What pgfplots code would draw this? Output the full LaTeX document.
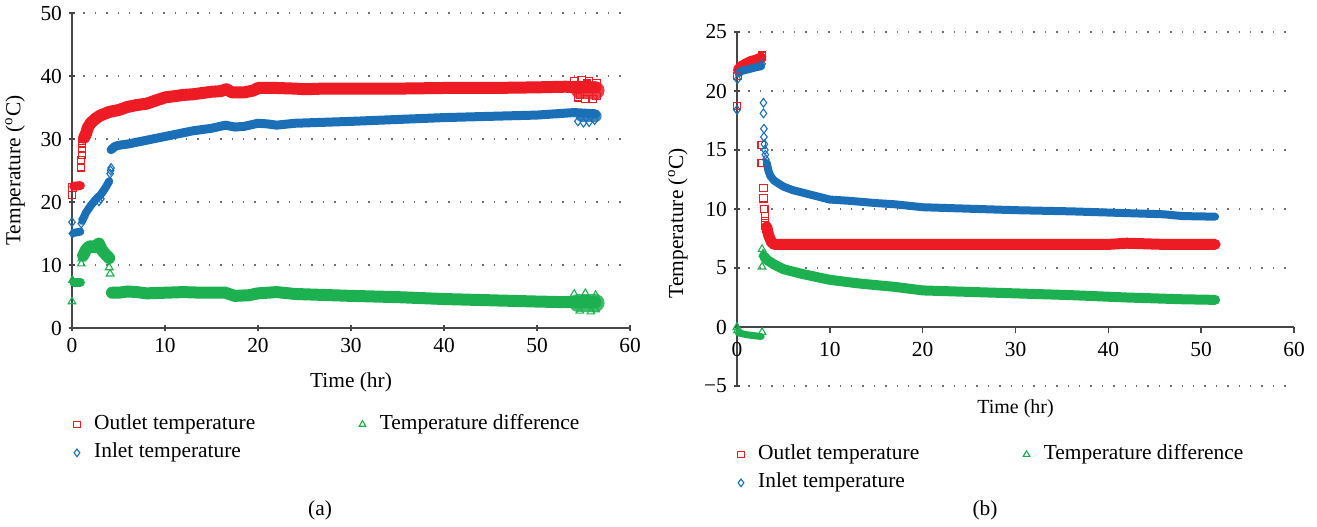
\documentclass[border=0pt]{standalone}
\usepackage{fontspec}
\setmainfont{Liberation Serif}
\usepackage{pgfplots}
\pgfplotsset{compat=1.18}
\definecolor{cred}{RGB}{237,28,36}
\definecolor{cblue}{RGB}{26,111,183}
\definecolor{cgreen}{RGB}{29,176,80}
\definecolor{axgray}{RGB}{70,70,70}
\definecolor{gridgray}{RGB}{110,110,110}
\newcommand{\fs}{\fontsize{10.7}{12.5}\selectfont}
\pgfplotsset{
  band/.style={no markers, line join=round, line cap=round, forget plot},
  rsq/.style={only marks, mark=square, mark size=1.8pt, mark options={draw=cred, line width=0.55pt, fill=none}, forget plot},
  bdi/.style={only marks, mark=diamond, mark size=2.2pt, mark options={draw=cblue, line width=0.55pt, fill=none}, forget plot},
  gtr/.style={only marks, mark=triangle, mark size=2.2pt, mark options={draw=cgreen, line width=0.55pt, fill=none}, forget plot},
  common/.style={
    scale only axis, enlargelimits=false, clip=false,
    axis line style={-, draw=axgray, line width=0.8pt},
    every tick/.style={draw=axgray, line width=0.8pt},
    tick align=outside, major tick length=3pt,
    ymajorgrids, grid style={draw=gridgray, line width=0.7pt, dash pattern=on 0.7pt off 5pt},
    ticklabel style={font=\fs},
    /pgf/number format/assume math mode=true,
    label style={font=\fs},
    legend columns=2,
    legend image code/.code={\draw[#1] plot coordinates {(0pt,0pt)};},
    legend style={draw=none, fill=none, inner sep=0pt, font=\fs, legend cell align=left,
      nodes={inner sep=0pt, text height=7.5pt, text depth=2.5pt},
      row sep=4.2pt,
      /tikz/every odd column/.append style={column sep=7.0pt},
      /tikz/every even column/.append style={column sep=52pt}},
  },
  rleg/.style={only marks, mark=square, mark size=1.6pt, cred, mark options={draw=cred, fill=none, line width=0.55pt}},
  gleg/.style={only marks, mark=triangle, mark size=1.9pt, cgreen, mark options={draw=cgreen, fill=none, line width=0.55pt}},
  bleg/.style={only marks, mark=diamond, mark size=1.9pt, cblue, mark options={draw=cblue, fill=none, line width=0.55pt}},
}
\begin{document}
\begin{tikzpicture}
\useasboundingbox (0,0) rectangle (658.5pt,263pt);
% ---------------- panel (a)
\begin{axis}[common, at={(36pt,99pt)}, anchor=south west, width=279pt, height=157.5pt,
  xmin=0, xmax=60, ymin=0, ymax=50,
  axis x line=bottom, axis y line=left,
  x axis line style={-}, y axis line style={-},
  xtick={0,10,...,60}, ytick={0,10,...,50},
  xlabel={Time (hr)}, ylabel={Temperature (\textsuperscript{o}C)},
  xlabel style={at={(axis description cs:0.5,-0.171)}, anchor=center},
  ylabel style={at={(axis description cs:-0.102,0.5)}, anchor=center},
  legend style={at={(axis description cs:0.0025,-0.273)}, anchor=north west},
]
% outlet
\addplot[band, cred, line width=4.5pt] coordinates {(0.2,22.5)(0.9,22.6)};
\addplot[band, cred, line width=6pt] coordinates {(1.3,30.2)(1.5,30.8)(1.7,31.8)(2,32.5)(2.5,33.2)(3,33.7)(3.5,34.0)(4,34.3)(5,34.6)(6,35.1)(7,35.4)(8,35.6)(9,36.1)(10,36.6)(11,36.8)(12,37.0)(13,37.1)(14,37.3)(15,37.5)(16,37.6)(16.6,37.9)(17.2,37.4)(18.5,37.4)(19.5,37.7)(20,38.1)(22,38.1)(24,38.0)(25,37.9)(27,38.0)(30,38.0)(35,38.0)(40,38.1)(45,38.1)(50,38.2)(53,38.3)(56.3,38.2)};
\addplot[band, cred, line width=9pt, opacity=0.85] coordinates {(54.6,37.8)(56.3,37.7)};
\addplot[rsq] coordinates {(0,21.1)(0.05,22.3)(1.0,25.5)(1.0,26.6)(1.05,27.5)(1.05,28.5)(1.1,29.3)(1.15,30.0)
 (54.0,39.2)(54.4,36.6)(54.8,39.3)(55.2,36.3)(55.6,39.2)(56.0,36.4)(56.4,38.9)(56.4,36.8)(55.4,38.8)(54.6,37.0)};
% inlet
\addplot[band, cblue, line width=4pt] coordinates {(0.2,15.1)(0.9,15.3)};
\addplot[band, cblue, line width=4pt] coordinates {(1.1,17.0)(1.5,18.3)(2,19.4)(2.5,20.3)(2.8,20.8)(3.0,21.0)(3.3,21.6)(3.7,22.5)(4.0,23.3)};
\addplot[band, cblue, line width=4.5pt] coordinates {(4.2,28.3)(4.6,28.8)(5,29.0)(6,29.2)(7,29.5)(8,29.8)(9,30.1)(10,30.4)(11,30.7)(12,31.0)(13,31.3)(14,31.5)(15,31.7)(16.5,32.2)(17.5,31.9)(18.5,32.0)(20,32.5)(21,32.4)(22,32.2)(24,32.5)(26,32.6)(30,32.8)(35,33.1)(40,33.4)(45,33.6)(50,33.8)(52,34.0)(54,34.2)(56.3,34.0)};
\addplot[band, cblue, line width=6pt, opacity=0.85] coordinates {(54.8,33.6)(56.3,33.6)};
\addplot[bdi] coordinates {(0,16.8)(0.05,15.0)(1.0,16.6)(1.1,17.3)(2.9,20.1)(3.1,20.5)(4.1,24.5)(4.15,25.0)(4.2,25.4)
 (54.4,32.8)(55.0,32.6)(55.6,32.7)(56.2,33.0)};
% difference
\addplot[band, cgreen, line width=4.5pt] coordinates {(0.2,7.3)(0.9,7.3)};
\addplot[band, cgreen, line width=6pt] coordinates {(1.2,11.5)(1.5,12.4)(1.8,12.9)(2.1,13.0)(2.4,12.8)(2.7,13.2)(2.9,13.4)(3.2,12.4)(3.6,11.7)(4.0,11.1)};
\addplot[band, cgreen, line width=6pt] coordinates {(4.3,5.6)(5,5.6)(6,5.8)(7,5.7)(8,5.5)(10,5.6)(12,5.7)(14,5.6)(16.5,5.6)(17.5,5.1)(19,5.2)(20,5.5)(22,5.7)(24,5.4)(26,5.3)(30,5.1)(35,4.9)(40,4.6)(45,4.4)(50,4.2)(53,4.1)(56.3,4.1)};
\addplot[band, cgreen, line width=9pt, opacity=0.85] coordinates {(54.4,4.0)(56.3,4.0)};
\addplot[gtr] coordinates {(0,4.2)(0.05,7.6)(1.0,10.2)(1.05,11.0)(4.0,9.6)(4.1,8.6)
 (54.0,5.4)(54.6,2.7)(55.2,5.5)(55.8,2.6)(56.3,5.2)(56.3,2.9)};
\addlegendimage{rleg}
\addlegendimage{gleg}
\addlegendimage{bleg}
\legend{Outlet temperature, Temperature difference, Inlet temperature}
\end{axis}
% ---------------- panel (b)
\begin{axis}[common, at={(368.5pt,70pt)}, anchor=south west, width=278.5pt, height=177pt,
  xmin=0, xmax=60, ymin=-5, ymax=25,
  axis x line=middle, axis y line=left,
  x axis line style={-}, y axis line style={-},
  hide obscured x ticks=false, hide obscured y ticks=false,
  xtick={0,10,...,60}, ytick={-5,0,5,10,15,20,25},
  yticklabels={−5,0,5,10,15,20,25},
  xtick align=outside,
  xticklabel style={anchor=north, yshift=-1pt},
  xlabel={Time (hr)}, ylabel={Temperature (\textsuperscript{o}C)},
  xlabel style={at={(axis description cs:0.5,-0.065)}, anchor=center},
  ylabel style={at={(axis description cs:-0.106,0.46)}, anchor=center},
  legend style={at={(axis description cs:0.0007,-0.164)}, anchor=north west},
]
% outlet
\addplot[band, cred, line width=5.5pt] coordinates {(0.15,21.8)(0.5,22.1)(1,22.3)(1.5,22.5)(2,22.6)(2.6,22.8)};
\addplot[band, cred, line width=5.5pt] coordinates {(3.2,8.5)(3.4,7.8)(3.7,7.2)(4,7.0)(10,7.0)(20,7.0)(30,7.0)(40,7.0)(42,7.1)(46,7.0)(51.5,7.0)};
\addplot[rsq] coordinates {(0,18.7)(0.05,21.3)(2.7,23.0)(2.65,15.4)(2.65,13.9)(2.85,11.8)(2.85,10.9)(2.95,10.0)(3.0,9.4)(3.05,9.0)(3.05,8.6)(3.1,8.3)};
% inlet
\addplot[band, cblue, line width=4pt] coordinates {(0.15,21.5)(0.5,21.7)(1,21.8)(1.5,21.9)(2,22.0)(2.6,22.1)};
\addplot[band, cblue, line width=4pt] coordinates {(3.2,13.9)(3.4,13.2)(3.6,12.8)(4,12.4)(5,11.9)(6,11.6)(7,11.4)(8,11.2)(10,10.8)(12,10.7)(15,10.5)(17,10.4)(20,10.15)(24,10.05)(30,9.9)(36,9.8)(42,9.65)(46,9.55)(48,9.4)(51.5,9.35)};
\addplot[bdi] coordinates {(0,18.4)(0.05,21.0)(2.7,22.3)(2.85,19.0)(2.85,18.1)(2.9,16.8)(2.9,16.1)(2.95,15.5)(3.0,15.0)(3.05,14.6)(3.1,14.2)};
% difference
\addplot[band, cgreen, line width=3.5pt] coordinates {(0.15,-0.5)(1,-0.65)(2,-0.75)(2.6,-0.8)};
\addplot[band, cgreen, line width=5pt] coordinates {(2.9,6.0)(3.2,5.7)(4,5.3)(5,4.9)(7,4.5)(10,4.0)(13,3.7)(17,3.4)(20,3.1)(24,3.0)(30,2.85)(36,2.7)(42,2.5)(48,2.35)(51.5,2.3)};
\addplot[gtr] coordinates {(0,0.0)(0.05,-0.3)(2.7,-0.45)(2.7,6.6)(2.7,5.1)(2.8,6.2)};
\addlegendimage{rleg}
\addlegendimage{gleg}
\addlegendimage{bleg}
\legend{Outlet temperature, Temperature difference, Inlet temperature}
\end{axis}
\node[font=\fs] at (160pt,8pt) {(a)};
\node[font=\fs] at (492.5pt,8pt) {(b)};
\end{tikzpicture}
\end{document}
